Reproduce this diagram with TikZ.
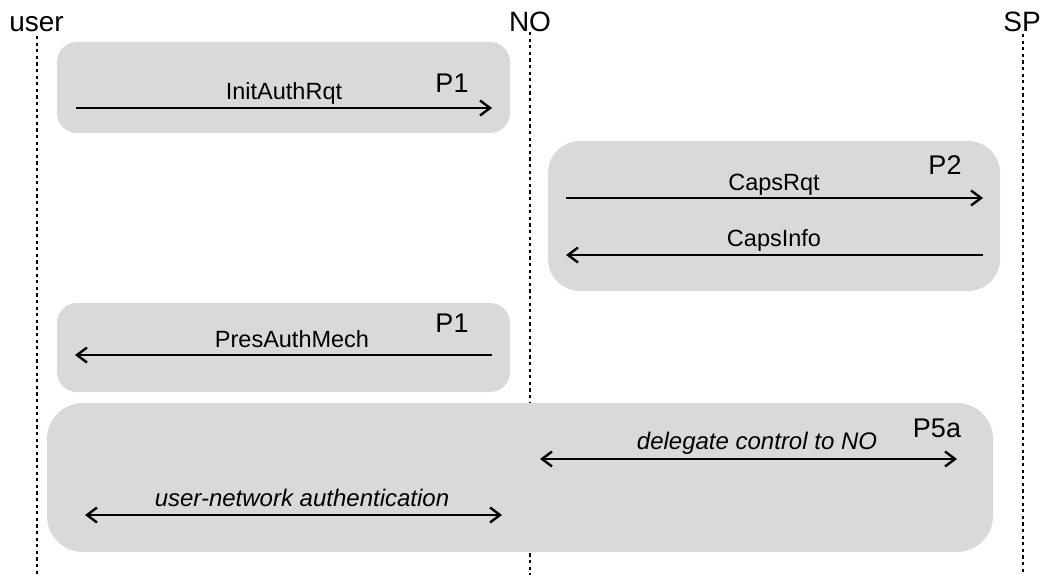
\documentclass[tikz,border=0pt]{standalone}
\usepackage{fontspec}
\setmainfont{Liberation Sans}
\usetikzlibrary{arrows.meta, positioning}
\definecolor{phasegrey}{HTML}{D9D9D9}
\tikzset{
  >={Straight Barb[length=10pt, width=15pt]},
  lifeline/.style = {line width=2.2pt, dash pattern=on 3.2pt off 3.4pt},
  phase/.style = {fill=phasegrey, rounded corners=#1},
  phase/.default = 20pt,
  lane/.style = {anchor=base, inner sep=0pt, font=\fontsize{28}{32}\selectfont},
  phaselabel/.style = {anchor=base, inner sep=0pt, font=\fontsize{27}{30}\selectfont},
  msg/.style = {line width=2.4pt},
  msglabel/.style = {anchor=base, inner sep=0pt, font=\fontsize{23.5}{27}\selectfont},
  note/.style = {msglabel, font=\fontsize{24}{27}\selectfont\itshape}
}

\begin{document}
\begin{tikzpicture}[x=1pt, y=-1pt]
  \useasboundingbox (0,0) rectangle (1045,575);

  % Lanes
  \node[lane] (user) at (36.5,32) {user};
  \node[lane] (NO) at (530,32) {NO};
  \node[lane] (SP) at (1022,32) {SP};
  \coordinate (bottom) at (0,575);
  \draw[lifeline] (37,36) -- (37,575);
  \draw[lifeline] (NO.base) -- (NO.base |- bottom);
  \draw[lifeline] (1023,34) -- (1023,575);

  % Phase P1 (request)
  \fill[phase] (57,42) rectangle (510,133);
  \node[phaselabel] (p1a) at (452,93) {P1};
  \coordinate (init-from) at (76,108);
  \coordinate (init-to) at (492,108);
  \draw[msg, ->] (init-from) -- (init-to);
  \node[msglabel] (init) at (284,100) {InitAuthRqt};

  % Phase P2
  \fill[phase=32pt] (548,141) rectangle (1000,291);
  \node[phaselabel] (p2) at (945,175) {P2};
  \coordinate (caps-no) at (566,198);
  \coordinate (caps-sp) at (983,198);
  \draw[msg, ->] (caps-no) -- (caps-sp);
  \node[msglabel] (capsrqt) at (774,191) {CapsRqt};
  \coordinate (info-sp) at (983,255);
  \coordinate (info-no) at (566,255);
  \draw[msg, ->] (info-sp) -- (info-no);
  \node[msglabel] (capsinfo) at (774,247) {CapsInfo};

  % Phase P1 (answer)
  \fill[phase] (57,303) rectangle (510,392);
  \node[phaselabel] (p1b) at (452,332) {P1};
  \coordinate (pres-from) at (492,355);
  \coordinate (pres-to) at (75,355);
  \draw[msg, ->] (pres-from) -- (pres-to);
  \node[msglabel] (pres) at (292,347) {PresAuthMech};

  % Phase P5a
  \fill[phase=36pt] (47,403) rectangle (993,552);
  \node[phaselabel] (p5a) at (937,437) {P5a};
  \coordinate (deleg-no) at (540,459);
  \coordinate (deleg-sp) at (957,459);
  \draw[msg, <->] (deleg-no) -- (deleg-sp);
  \node[note] (deleg) at (757,449) {delegate control to NO};
  \coordinate (auth-user) at (85,515);
  \coordinate (auth-no) at (502,515);
  \draw[msg, <->] (auth-user) -- (auth-no);
  \node[note] (auth) at (302,506) {user-network authentication};

\end{tikzpicture}
\end{document}
